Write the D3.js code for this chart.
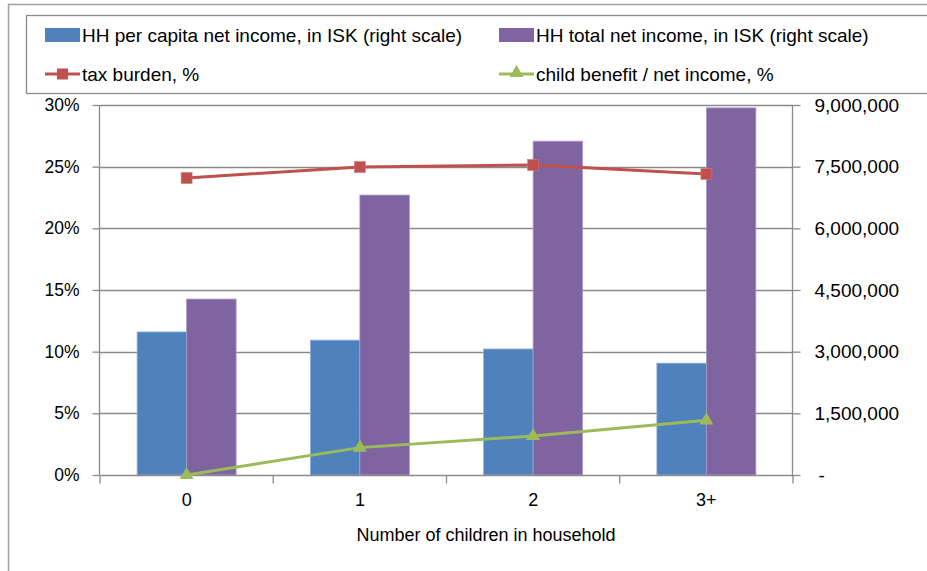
<!DOCTYPE html>
<html><head><meta charset="utf-8">
<script src="https://cdn.jsdelivr.net/npm/d3@7"></script>
<style>
body{margin:0;background:#fff;}
text{font-family:"Liberation Sans",Arial,sans-serif;fill:#000;}
</style></head>
<body><svg id="c" width="927" height="571"></svg>
<script>
const categories = ["0","1","2","3+"];
const perCapita = [3480000, 3280000, 3065000, 2720000];
const totalIncome = [4280000, 6810000, 8120000, 8930000];
const taxBurden = [0.2408, 0.2497, 0.2514, 0.2441];
const childBenefit = [0.0, 0.0222, 0.0316, 0.0443];
const leftTicks = [0, 0.05, 0.10, 0.15, 0.20, 0.25, 0.30];
const rightTicks = [0, 1500000, 3000000, 4500000, 6000000, 7500000, 9000000];
const seriesNames = ["HH per capita net income, in ISK (right scale)", "HH total net income, in ISK (right scale)", "tax burden, %", "child benefit / net income, %"];
const colors = {blue:"#4F81BD", purple:"#8064A2", red:"#C0504D", green:"#9BBB59"};

const svg = d3.select("#c");
svg.append("rect").attr("width",927).attr("height",571).attr("fill","#fff");
// outer chart border
svg.append("rect").attr("x",8.5).attr("y",4.5).attr("width",1000).attr("height",1000)
  .attr("fill","none").attr("stroke","#a0a0a0").attr("stroke-width",1.5);

const L = 100, R = 793, T = 105, B = 475;
const x = d3.scaleBand().domain(categories).range([L, R]).padding(0);
const yL = d3.scaleLinear().domain([0, 0.30]).range([B, T]);
const yR = d3.scaleLinear().domain([0, 9000000]).range([B, T]);
const barW = x.bandwidth() * 0.2857;
const cx = d => x(d) + x.bandwidth()/2;

// gridlines
svg.append("g").selectAll("line").data(leftTicks.slice(1)).join("line")
  .attr("x1",L).attr("x2",R).attr("y1",d=>Math.round(yL(d))+0.5).attr("y2",d=>Math.round(yL(d))+0.5)
  .attr("stroke","#8a8a8a").attr("stroke-width",1.3);

// bars
const bars = svg.append("g");
bars.selectAll("rect.b").data(categories).join("rect").attr("class","b")
  .attr("x",d=>cx(d)-barW).attr("width",barW)
  .attr("y",(d,i)=>yR(perCapita[i])).attr("height",(d,i)=>B-yR(perCapita[i]))
  .attr("fill",colors.blue).attr("stroke","#8fb0d8").attr("stroke-width",0.8);
bars.selectAll("rect.p").data(categories).join("rect").attr("class","p")
  .attr("x",d=>cx(d)).attr("width",barW)
  .attr("y",(d,i)=>yR(totalIncome[i])).attr("height",(d,i)=>B-yR(totalIncome[i]))
  .attr("fill",colors.purple).attr("stroke","#ab9bc8").attr("stroke-width",0.8);

// axes
const axL = svg.append("g").attr("transform",`translate(${L-0.5},0)`)
  .call(d3.axisLeft(yL).tickValues(leftTicks).tickSize(7).tickPadding(13).tickFormat(d3.format(".0%")));
const axR = svg.append("g").attr("transform",`translate(${R-0.5},0)`)
  .call(d3.axisRight(yR).tickValues(rightTicks).tickSize(8).tickPadding(14)
    .tickFormat(d => d===0 ? "-" : d3.format(",")(d)));
const axB = svg.append("g").attr("transform",`translate(0,${B+0.5})`)
  .call(d3.axisBottom(x).tickSize(0).tickPadding(18));
[axL, axR, axB].forEach(a => {
  a.selectAll("path.domain").attr("stroke","#8a8a8a").attr("stroke-width",1.3);
  a.selectAll(".tick line").attr("stroke","#8a8a8a").attr("stroke-width",1.3);
  a.selectAll("text").style("font-family","'Liberation Sans',Arial,sans-serif").attr("font-size",17.5).attr("fill","#000");
});
axR.selectAll("text").attr("font-size",19);
axB.selectAll("text").attr("font-size",18);
axL.select("path.domain").attr("d",`M0,${T}V${B}`);
axR.select("path.domain").attr("d",`M0,${T}V${B}`);
axR.selectAll(".tick text").attr("x",22).attr("text-anchor","start");
axR.selectAll(".tick").filter(d=>d===0).select("text").attr("x",26);
axB.select("path.domain").attr("d",`M${L},0H${R}`);
// category boundary ticks
axB.selectAll("line.bnd").data(categories.concat(["end"])).join("line").attr("class","bnd")
  .attr("x1",(d,i)=> i<categories.length ? x(d) : R).attr("x2",(d,i)=> i<categories.length ? x(d) : R)
  .attr("y1",0).attr("y2",8).attr("stroke","#8a8a8a").attr("stroke-width",1.3);

// axis title
svg.append("text").attr("x",486).attr("y",541).attr("text-anchor","middle")
  .attr("font-size",18).text("Number of children in household");

// lines
const lineTax = d3.line().x((d,i)=>cx(categories[i])).y(d=>yL(d));
svg.append("path").datum(taxBurden).attr("d",lineTax).attr("fill","none")
  .attr("stroke",colors.red).attr("stroke-width",3);
svg.append("g").selectAll("rect").data(taxBurden).join("rect")
  .attr("x",(d,i)=>cx(categories[i])-5.5).attr("y",d=>yL(d)-5.5).attr("width",11).attr("height",11)
  .attr("fill",colors.red).attr("stroke","#cf7b78").attr("stroke-width",0.6);

svg.append("path").datum(childBenefit).attr("d",lineTax).attr("fill","none")
  .attr("stroke",colors.green).attr("stroke-width",3);
const tri = d3.symbol().type(d3.symbolTriangle).size(85);
svg.append("g").selectAll("path").data(childBenefit).join("path")
  .attr("transform",(d,i)=>`translate(${cx(categories[i])},${yL(d)})`).attr("d",tri)
  .attr("fill",colors.green);

// legend
svg.append("rect").attr("x",26.5).attr("y",15.5).attr("width",1000).attr("height",78)
  .attr("fill","#fff").attr("stroke","#8c8c8c").attr("stroke-width",1.3);
const lg = svg.append("g");
const legendItems = [
  {name:seriesNames[0], kind:"box", color:colors.blue, x:45, y:35},
  {name:seriesNames[1], kind:"box", color:colors.purple, x:499, y:35},
  {name:seriesNames[2], kind:"sq", color:colors.red, x:45, y:74},
  {name:seriesNames[3], kind:"tri", color:colors.green, x:499, y:74}
];
legendItems.forEach(it => {
  if (it.kind === "box") {
    lg.append("rect").attr("x",it.x).attr("y",it.y-7).attr("width",35).attr("height",14).attr("fill",it.color);
  } else {
    lg.append("line").attr("x1",it.x).attr("x2",it.x+35).attr("y1",it.y).attr("y2",it.y)
      .attr("stroke",it.color).attr("stroke-width",3);
    if (it.kind === "sq") {
      lg.append("rect").attr("x",it.x+12).attr("y",it.y-5.5).attr("width",11).attr("height",11).attr("fill",it.color);
    } else {
      lg.append("path").attr("transform",`translate(${it.x+17.5},${it.y-1})`).attr("d",tri).attr("fill",it.color);
    }
  }
  lg.append("text").attr("x",it.x+37).attr("y",it.y).attr("dy","0.35em").attr("font-size",19).text(it.name);
});
</script></body></html>
